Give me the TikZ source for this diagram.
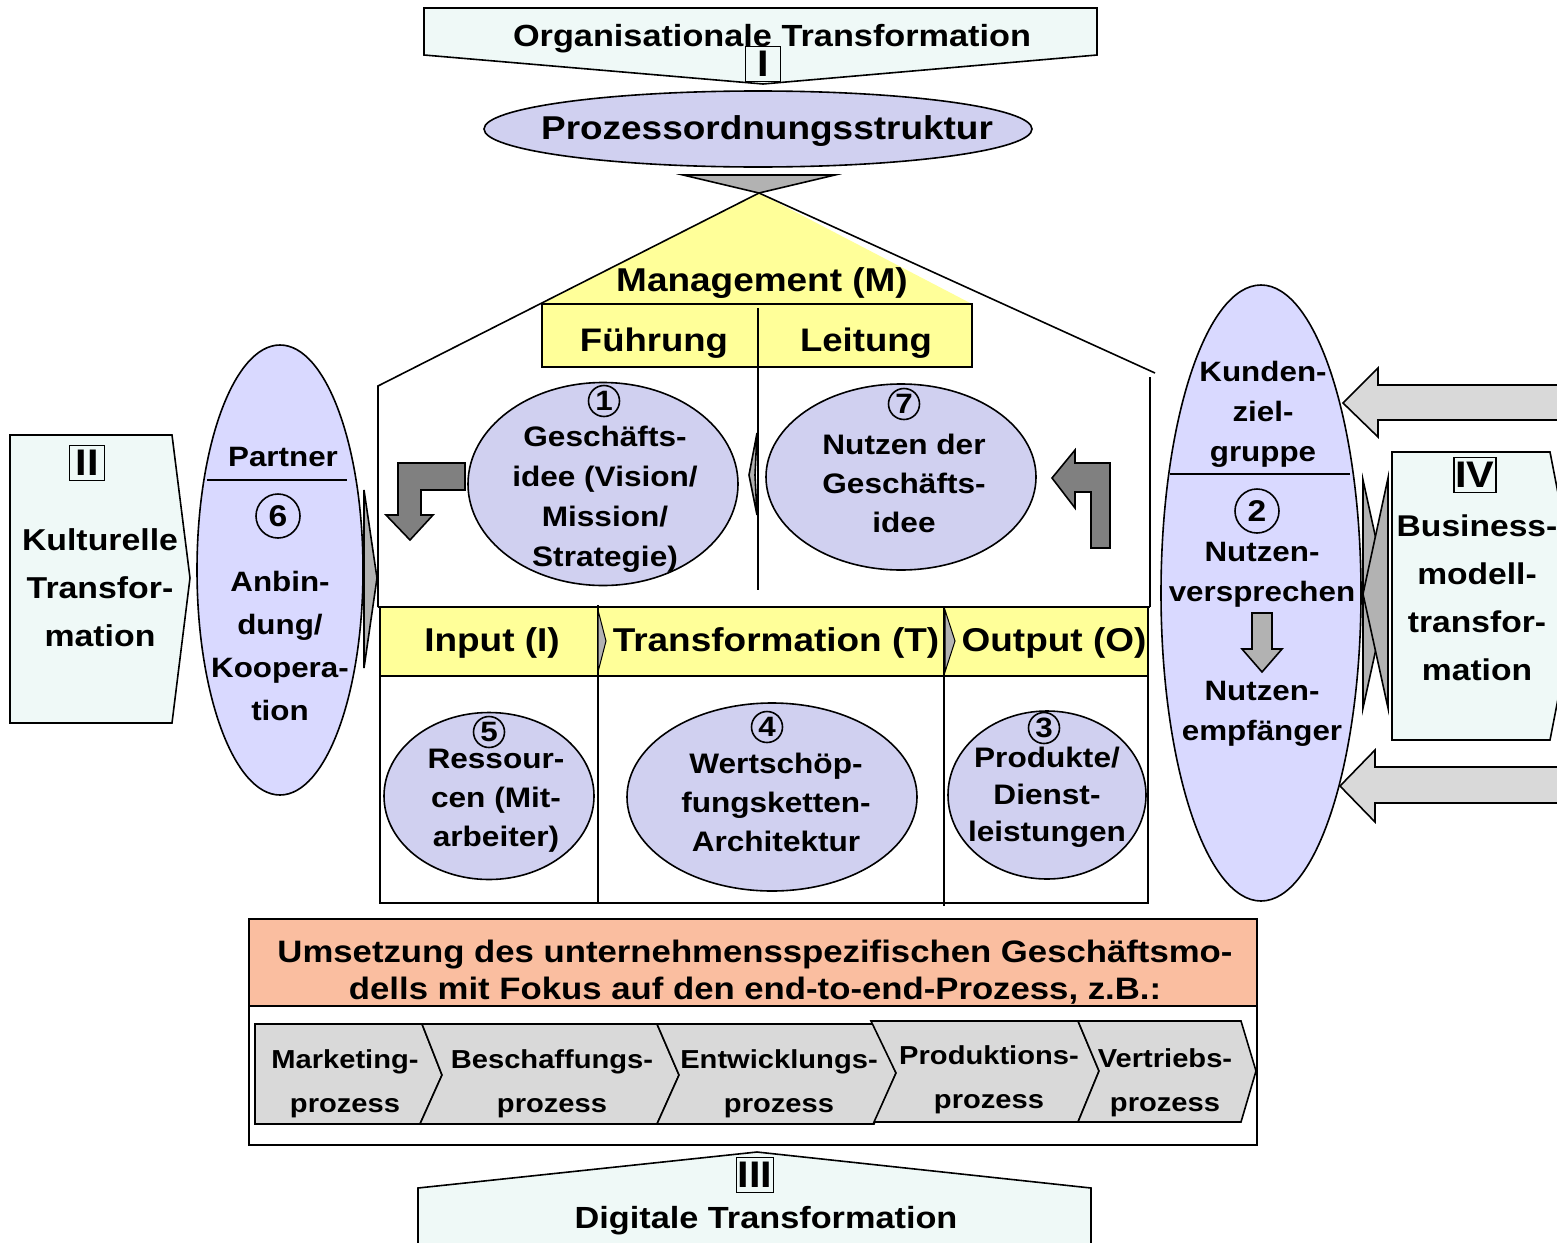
\documentclass[tikz,border=0pt]{standalone}
\usepackage{fontspec}
\setmainfont[FakeStretch=1.12]{Liberation Sans}
\usetikzlibrary{shapes.geometric}
\definecolor{bannerfill}{RGB}{239,249,247}
\definecolor{lavA}{RGB}{208,208,240}
\definecolor{lavB}{RGB}{217,217,255}
\definecolor{yel}{RGB}{255,255,153}
\definecolor{salmon}{RGB}{250,190,160}
\definecolor{gLight}{RGB}{217,217,217}
\definecolor{gMid}{RGB}{178,178,178}
\definecolor{gDark}{RGB}{128,128,128}
\begin{document}
\begin{tikzpicture}[x=0.5pt,y=-0.5pt, line width=0.8pt, line join=miter,
  txt/.style 2 args={inner sep=0pt, anchor=north, align=center, font=\bfseries\fontsize{#1}{#2}\selectfont},
  oval/.style={ellipse, draw, inner sep=0pt},
  numc/.style={circle, draw, fill=none, inner sep=0pt, minimum size=#1, font=\bfseries\fontsize{14}{14}\selectfont},
  roman/.style={draw, fill=bannerfill, inner sep=0.6pt, minimum width=17.5pt, minimum height=17.5pt, font=\bfseries\fontsize{18.5}{18.5}\selectfont},
  banner/.style={draw, fill=bannerfill},
  chev/.style={draw, fill=gLight},
]
\useasboundingbox (0,0) rectangle (1557,1242);

% ---------- top banner I ----------
\draw[banner] (424,8) -- (1097,8) -- (1097,55) -- (763,84) -- (424,55) -- cycle;
\node[txt={15.3}{18}] (orgT) at (772,24) {Organisationale Transformation};
\node[roman] (romI) at (763,64) {I};

% ---------- process order structure ----------
\node[oval, fill=lavA, minimum width=274pt, minimum height=38pt] (pos) at (758,129) {};
\node[txt={16.5}{20}] (posT) at (767,115) {Prozessordnungsstruktur};
\draw[fill=gMid] (683,175) -- (835,175) -- (759,193) -- cycle;

% ---------- house: roof and management ----------
\fill[yel] (759,193) -- (542,304) -- (972,304) -- cycle;
\draw (759,193) -- (378,386) -- (378,607);
\draw (759,193) -- (1155,373);
\draw (1150,377) -- (1150,607);
\node[txt={16.5}{20}] (mgmT) at (762,267) {Management (M)};
\draw[fill=yel] (542,304) rectangle (972,367);
\draw (758,308) -- (758,590);
\node[txt={16.3}{20}] (fuehr) at (654,327) {Führung};
\node[txt={16.3}{20}] (leit) at (866,327) {Leitung};
\draw[fill=gMid] (757,433) -- (749,475) -- (757,515) -- (755,475) -- cycle;

% ellipse 1 and 7
\node[oval, fill=lavA, minimum width=135pt, minimum height=101.5pt] (e1) at (603,484) {};
\node[numc=15.5pt] (n1) at (604,401) {1};
\node[txt={14.1}{20}] (e1T) at (605,425) {Geschäfts-\\idee (Vision/\\Mission/\\Strategie)};
\node[oval, fill=lavA, minimum width=135pt, minimum height=93pt] (e7) at (901,477) {};
\node[numc=15.5pt] (n7) at (904,404) {7};
\node[txt={14.1}{19.5}] (e7T) at (904,433) {Nutzen der\\Geschäfts-\\idee};

% bent arrows
\draw[fill=gDark] (465,463) -- (398,463) -- (398,515) -- (386,515) -- (410,540) -- (433,515) -- (421,515) -- (421,490) -- (465,490) -- cycle;
\draw[fill=gDark] (1110,463) -- (1075,463) -- (1075,450) -- (1052,478) -- (1075,508) -- (1075,492) -- (1091,492) -- (1091,548) -- (1110,548) -- cycle;

% ---------- input / transformation / output ----------
\draw[fill=yel] (380,607) rectangle (1148,676);
\draw (380,676) rectangle (1148,903);
\draw[line width=1.2pt] (378,607) -- (1150,607);
\draw[line width=1.2pt] (380,903) -- (1148,903);
\draw (598,605) -- (598,903);
\draw (944,607) -- (944,906);
\draw[fill=gMid, line width=0.5pt] (598,610) -- (606,641) -- (598,672) -- cycle;
\draw[fill=gMid, line width=0.5pt] (945,610) -- (955,641) -- (945,672) -- cycle;
\node[txt={16.5}{20}] (inT) at (492,627) {Input (I)};
\node[txt={16.5}{20}] (trT) at (776,627) {Transformation (T)};
\node[txt={16.5}{20}] (outT) at (1054,627) {Output (O)};

\node[oval, fill=lavA, minimum width=105pt, minimum height=83.5pt] (e5) at (489,796) {};
\node[numc=15.5pt] (n5) at (489,732) {5};
\node[txt={14.1}{19.5}] (e5T) at (496,748) {Ressour-\\cen (Mit-\\arbeiter)};
\node[oval, fill=lavA, minimum width=145pt, minimum height=94pt] (e4) at (772,797) {};
\node[numc=15.5pt] (n4) at (767,727) {4};
\node[txt={14.1}{19.5}] (e4T) at (776,752) {Wertschöp-\\fungsketten-\\Architektur};
\node[oval, fill=lavA, minimum width=99pt, minimum height=84pt] (e3) at (1047,795) {};
\node[numc=15.5pt] (n3) at (1044,728) {3};
\node[txt={14.1}{18.5}] (e3T) at (1047,746) {Produkte/\\Dienst-\\leistungen};

% ---------- left side: culture and partner ----------
\draw[banner] (10,435) -- (172,435) -- (190,578) -- (172,723) -- (10,723) -- cycle;
\node[roman] (romII) at (87,463) {II};
\node[txt={15.1}{24}] (kulT) at (100,528) {Kulturelle\\Transfor-\\mation};
\node[oval, fill=lavB, minimum width=83pt, minimum height=225pt] (part) at (280,570) {};
\draw (207,480) -- (347,480);
\node[txt={14}{20}] (partT) at (283,446) {Partner};
\node[numc=22pt, font=\bfseries\fontsize{15}{15}\selectfont] (n6) at (278,516) {6};
\node[txt={14}{21.5}] (anbT) at (280,570) {Anbin-\\dung/\\Koopera-\\tion};
\draw[fill=gMid] (364,490) -- (377,578) -- (364,668) -- cycle;

% ---------- right side: customers and business model ----------
\draw[fill=gLight] (1580,385) -- (1378,385) -- (1378,368) -- (1343,403) -- (1378,437) -- (1378,420) -- (1580,420) -- cycle;
\draw[fill=gLight] (1580,767) -- (1375,767) -- (1375,750) -- (1340,786) -- (1375,822) -- (1375,803) -- (1580,803) -- cycle;
\node[oval, fill=lavB, minimum width=100pt, minimum height=308pt] (kund) at (1261,593) {};
\draw (1170,474) -- (1350,474);
\node[txt={14}{20}] (kundT) at (1263,360) {Kunden-\\ziel-\\gruppe};
\node[numc=22pt, font=\bfseries\fontsize{15}{15}\selectfont] (n2) at (1257,511) {2};
\node[txt={14}{20}] (nvT) at (1262,541) {Nutzen-\\versprechen};
\draw[fill=gMid] (1252,613) -- (1272,613) -- (1272,649) -- (1282,649) -- (1262,672) -- (1242,649) -- (1252,649) -- cycle;
\node[txt={14}{20}] (neT) at (1262,680) {Nutzen-\\empfänger};
\draw[fill=gMid] (1363,480) -- (1388,594) -- (1363,708) -- cycle;
\draw[fill=gMid] (1388,478) -- (1363,594) -- (1388,708) -- cycle;
\draw[banner] (1392,452) -- (1550,452) -- (1578,596) -- (1550,740) -- (1392,740) -- cycle;
\node[roman] (romIV) at (1475,475) {IV};
\node[txt={15}{24}] (bmT) at (1477,514) {Business-\\modell-\\transfor-\\mation};

% ---------- implementation and processes ----------
\draw[fill=salmon, line width=1pt] (249,919) rectangle (1257,1006);
\node[txt={15.5}{18.5}] (umsT) at (755,939) {Umsetzung des unternehmensspezifischen Geschäftsmo-\\dells mit Fokus auf den end-to-end-Prozess, z.B.:};
\draw[line width=1pt] (249,1006) rectangle (1257,1145);

\draw[chev] (255,1024) -- (422,1024) -- (442,1075) -- (420,1124) -- (255,1124) -- cycle;
\draw[chev] (422,1024) -- (657,1024) -- (679,1075) -- (657,1124) -- (420,1124) -- (442,1075) -- cycle;
\draw[chev] (657,1024) -- (874,1024) -- (896,1073) -- (874,1124) -- (657,1124) -- (679,1075) -- cycle;
\draw[chev] (871,1021) -- (1078,1021) -- (1099,1071) -- (1078,1122) -- (874,1122) -- (896,1073) -- cycle;
\draw[chev] (1078,1021) -- (1241,1021) -- (1256,1071) -- (1241,1122) -- (1078,1122) -- (1099,1071) -- cycle;
\node[txt={13}{22}] (p1) at (345,1049) {Marketing-\\prozess};
\node[txt={13}{22}] (p2) at (552,1049) {Beschaffungs-\\prozess};
\node[txt={13}{22}] (p3) at (779,1049) {Entwicklungs-\\prozess};
\node[txt={13}{22}] (p4) at (989,1045) {Produktions-\\prozess};
\node[txt={13}{22}] (p5) at (1165,1048) {Vertriebs-\\prozess};

% ---------- bottom banner III ----------
\draw[banner] (418,1188) -- (757,1152) -- (1091,1188) -- (1091,1262) -- (418,1262) -- cycle;
\node[roman] (romIII) at (755,1175) {III};
\node[txt={15.3}{18}] (digT) at (766,1206) {Digitale Transformation};
\end{tikzpicture}
\end{document}
